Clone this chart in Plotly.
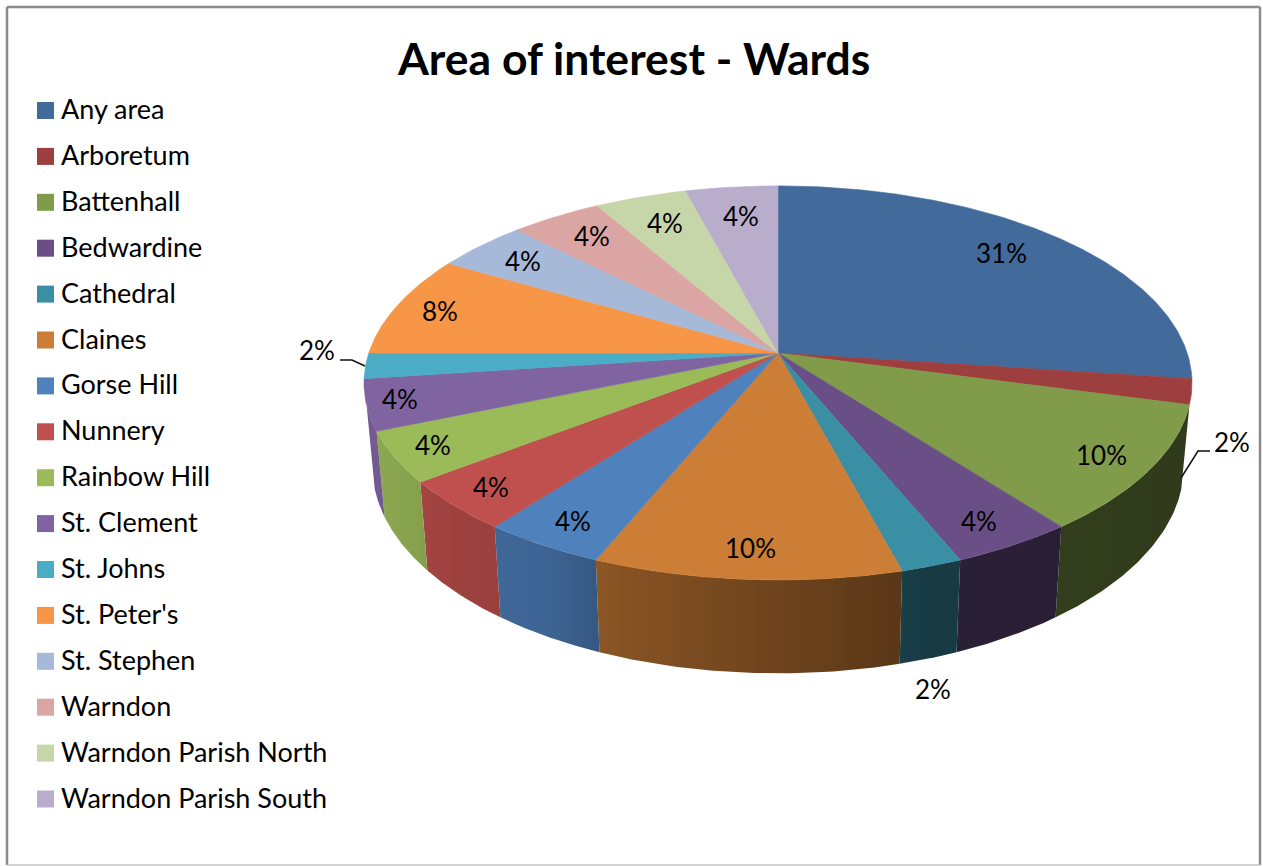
import numpy as np
import plotly.graph_objects as go

TITLE = "Area of interest - Wards"
CATEGORIES = ["Any area", "Arboretum", "Battenhall", "Bedwardine", "Cathedral", "Claines",
              "Gorse Hill", "Nunnery", "Rainbow Hill", "St. Clement", "St. Johns",
              "St. Peter's", "St. Stephen", "Warndon", "Warndon Parish North",
              "Warndon Parish South"]
PERCENTS = [31, 2, 10, 4, 2, 10, 4, 4, 4, 4, 2, 8, 4, 4, 4, 4]
COLORS = ["#426a9b", "#9e3f3f", "#809c4a", "#6a4f87", "#3a8fa5", "#cc7d36", "#4f81bd", "#c0504d",
          "#9bbb59", "#8064a2", "#4bacc6", "#f79646", "#a7b9d8", "#dba5a4", "#c6d6a9", "#b8adca"]

# Page-pixel centres of the percentage labels, in category order
LABEL_X = [1001, 1232, 1101, 979, 933, 750, 573, 491, 433, 400, 317, 440, 523, 592, 665, 741]
LABEL_Y = [253, 442, 455, 521, 689, 548, 521, 487, 445, 399, 350, 311, 261, 236, 223, 216]

# Projection of the tilted disc
CX, CY = 778.0, 353.0
BX, AY, PERSP = 409.2, 192.5, 0.152
BASE_Y, BASE_SX, BASE_SY = 435.0, 0.98, 1.05
FIRST_SWEEP = 13 / 48            # share of the turn the opening wedge takes in the view
WALL_FROM, WALL_TO = 105.0, 255.0  # degrees clockwise from 12 o'clock where the rim is in view

# Rim shading, as a brightness factor along the page x axis
SHADE_X = [360, 380, 460, 550, 600, 750, 895, 930, 1200]
SHADE_K = [0.90, 0.90, 0.82, 0.78, 0.68, 0.56, 0.45, 0.41, 0.38]


def view_angle(share):
    """Clockwise angle in degrees for a cumulative share of the total."""
    first = PERCENTS[0] / sum(PERCENTS)
    return 360.0 * np.interp(share, [0, first, 1], [0, FIRST_SWEEP, 1])


def top_xy(deg, r=1.0):
    t = np.radians(deg)
    sx, sz = r * np.sin(t), r * np.cos(t)
    den = 1 + PERSP * sz
    return CX + BX * sx / den, CY - AY * sz / den


def base_xy(deg):
    x, y = top_xy(deg)
    return CX + BASE_SX * (x - CX), BASE_Y + BASE_SY * (y - CY)


def shade_colorscale(color, xmin, xmax):
    rgb = np.array([int(color[i:i + 2], 16) for i in (1, 3, 5)], float)
    stops = []
    for u in np.linspace(0, 1, 7):
        k = np.interp(xmin + u * (xmax - xmin), SHADE_X, SHADE_K)
        r, g, b = (rgb * k).astype(int)
        stops.append([float(u), f"rgb({r},{g},{b})"])
    return stops


shares = np.cumsum([0] + PERCENTS) / sum(PERCENTS)
starts, ends = view_angle(shares[:-1]), view_angle(shares[1:])

fig = go.Figure()

# Rim walls go underneath the top face
for color, a0, a1 in zip(COLORS, starts, ends):
    lo, hi = max(a0, WALL_FROM), min(a1, WALL_TO)
    if hi <= lo:
        continue
    arc = np.linspace(lo, hi, 60)
    tx, ty = top_xy(arc)
    bx, by = base_xy(arc[::-1])
    xs = np.concatenate([tx, bx, tx[:1]])
    ys = np.concatenate([ty, by, ty[:1]])
    fig.add_trace(go.Scatter(
        x=xs, y=ys, mode="lines", fill="toself", line=dict(width=0),
        fillgradient=dict(type="horizontal",
                          colorscale=shade_colorscale(color, xs.min(), xs.max())),
        hoverinfo="skip", showlegend=False))

# Top face wedges
for name, color, a0, a1 in zip(CATEGORIES, COLORS, starts, ends):
    arc = np.linspace(a0, a1, max(8, int(a1 - a0) * 2))
    tx, ty = top_xy(arc)
    fig.add_trace(go.Scatter(
        x=np.concatenate([[CX], tx, [CX]]), y=np.concatenate([[CY], ty, [CY]]),
        mode="lines", fill="toself", fillcolor=color, line=dict(width=0.6, color=color),
        name=name, hoverinfo="name", showlegend=False))

# Leader lines for the two labels set outside the disc
for lx, ly in (([1181, 1198, 1210], [478, 451, 451]), ([340, 352, 365], [360, 360, 366])):
    fig.add_trace(go.Scatter(x=lx, y=ly, mode="lines", line=dict(color="#111111", width=1.5),
                             hoverinfo="skip", showlegend=False))

# Legend column
LEGEND_TOP, LEGEND_STEP = 110.5, 45.9
legend_y = [LEGEND_TOP + i * LEGEND_STEP for i in range(len(CATEGORIES))]
fig.add_trace(go.Scatter(x=[45.5] * len(CATEGORIES), y=legend_y, mode="markers",
                         marker=dict(symbol="square", size=17, color=COLORS, line=dict(width=0)),
                         hoverinfo="skip", showlegend=False))

FONT = "Lato"
annotations = [dict(x=633, y=57, text=f"<b>{TITLE}</b>", showarrow=False, xanchor="center",
                    yanchor="middle", font=dict(family=FONT, size=44.5, color="#000000"))]
for name, y in zip(CATEGORIES, legend_y):
    annotations.append(dict(x=58.5, y=y - 2, text=name, showarrow=False, xanchor="left",
                            yanchor="middle", font=dict(family=FONT, size=27, color="#000000")))
for pct, x, y in zip(PERCENTS, LABEL_X, LABEL_Y):
    annotations.append(dict(x=x, y=y, text=f"{pct}%", showarrow=False, xanchor="center",
                            yanchor="middle", font=dict(family=FONT, size=26, color="#000000")))

# Chart frame: the lower edge sits lighter than the other three
FRAME = "#8c8c8c"
shapes = [
    dict(type="line", x0=7, y0=7, x1=1260, y1=7, line=dict(color=FRAME, width=2.5)),
    dict(type="line", x0=7, y0=7, x1=7, y1=865, line=dict(color=FRAME, width=2.5)),
    dict(type="line", x0=1260, y0=7, x1=1260, y1=865, line=dict(color=FRAME, width=2.5)),
    dict(type="line", x0=7, y0=865, x1=1260, y1=865, line=dict(color="#c4c4c4", width=1.5)),
]

fig.update_layout(
    width=1263, height=866, margin=dict(l=0, r=0, t=0, b=0),
    paper_bgcolor="white", plot_bgcolor="white", showlegend=False,
    xaxis=dict(range=[0, 1263], visible=False, fixedrange=True),
    yaxis=dict(range=[866, 0], visible=False, fixedrange=True),
    annotations=annotations, shapes=shapes,
)
fig.write_html("out.html", config=dict(displayModeBar=False))
